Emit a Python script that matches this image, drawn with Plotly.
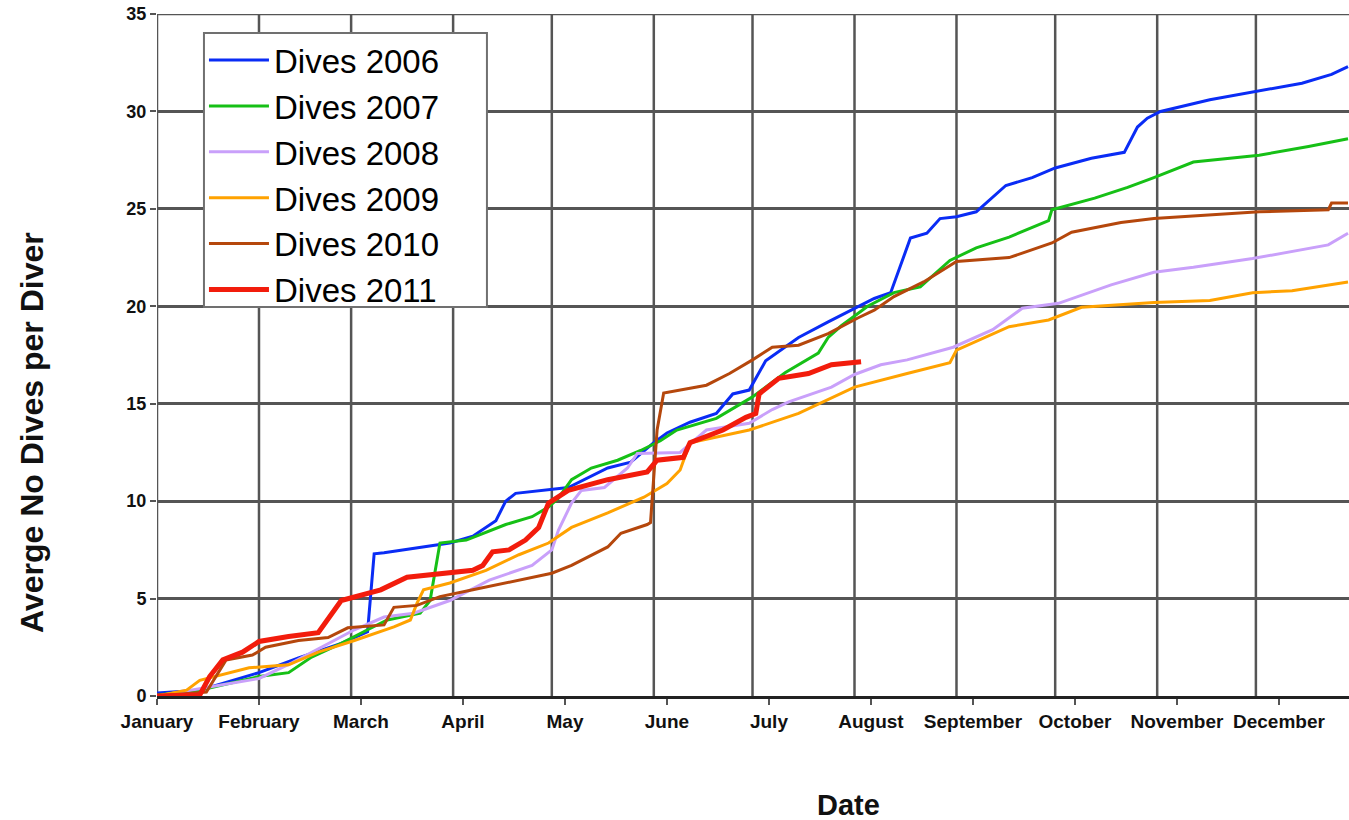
import plotly.graph_objects as go

# ---- data (day of year, average cumulative dives per diver) ----
month_names = ["January", "February", "March", "April", "May", "June", "July",
               "August", "September", "October", "November", "December"]
tick_days = [0, 31, 62, 93, 124, 155, 186, 217, 248, 279, 310, 341]
month_start_days = [0, 31, 59, 90, 120, 151, 181, 212, 243, 273, 304, 334]

d2006 = [0, 13, 31, 43, 56, 64, 66, 69, 89, 96, 103, 106, 109, 119, 125, 137, 144, 151, 155, 162,
         170, 175, 180, 185, 195, 204, 212, 218, 223, 229, 234, 238, 243, 249, 258, 266, 273, 284,
         294, 298, 301, 305, 320, 333, 348, 357, 362]
v2006 = [0.15, 0.3, 1.2, 1.95, 2.7, 3.3, 7.3, 7.35, 7.85, 8.2, 9.0, 10.0, 10.4, 10.6, 10.7, 11.7, 12.0,
         13.0, 13.5, 14.05, 14.5, 15.5, 15.7, 17.2, 18.4, 19.2, 19.9, 20.4, 20.7, 23.5, 23.75, 24.5,
         24.6, 24.85, 26.2, 26.6, 27.1, 27.6, 27.9, 29.2, 29.65, 30.0, 30.6, 31.0, 31.45, 31.9, 32.3]

d2007 = [0, 13, 31, 40, 47, 56, 64, 70, 80, 83, 86, 94, 106, 114, 119, 122, 126, 132, 140, 147, 153,
         158, 170, 181, 191, 201, 204, 208, 216, 224, 232, 241, 249, 259, 271, 272, 285, 295, 303,
         315, 335, 350, 362]
v2007 = [0.05, 0.3, 1.0, 1.2, 2.0, 2.7, 3.4, 3.9, 4.25, 4.9, 7.85, 8.0, 8.8, 9.2, 9.7, 10.15, 11.1,
         11.7, 12.1, 12.6, 13.1, 13.65, 14.25, 15.35, 16.6, 17.6, 18.4, 19.0, 20.0, 20.7, 21.0, 22.35,
         23.0, 23.55, 24.4, 24.95, 25.55, 26.1, 26.6, 27.4, 27.75, 28.2, 28.6]

d2008 = [0, 23, 31, 41, 50, 60, 69, 78, 89, 101, 114, 120, 122, 126, 129, 136, 143, 146, 159, 167,
         180, 187, 192, 205, 212, 220, 228, 242, 254, 263, 274, 290, 303, 315, 333, 345, 356, 362]
v2008 = [0.0, 0.65, 0.9, 1.7, 2.5, 3.4, 4.05, 4.25, 4.9, 5.95, 6.7, 7.5, 8.5, 9.9, 10.55, 10.7, 11.7,
         12.45, 12.5, 13.65, 14.0, 14.7, 15.1, 15.85, 16.5, 17.0, 17.25, 17.9, 18.8, 19.9, 20.15,
         21.1, 21.75, 22.0, 22.45, 22.8, 23.15, 23.75]

d2009 = [0, 9, 13, 28, 40, 49, 60, 72, 77, 79, 81, 89, 100, 110, 119, 126, 137, 148, 155, 159, 162,
         180, 195, 212, 228, 241, 243, 259, 271, 281, 303, 320, 333, 345, 362]
v2009 = [0.0, 0.3, 0.8, 1.45, 1.6, 2.25, 2.85, 3.55, 3.9, 4.75, 5.45, 5.8, 6.45, 7.25, 7.85, 8.65,
         9.4, 10.2, 10.9, 11.6, 13.0, 13.65, 14.5, 15.85, 16.55, 17.1, 17.75, 18.95, 19.3, 19.95,
         20.2, 20.3, 20.7, 20.8, 21.25]

d2010 = [0, 15, 21, 29, 33, 43, 52, 58, 69, 72, 79, 86, 96, 106, 120, 126, 137, 141, 149, 150, 152,
         154, 167, 174, 181, 187, 195, 204, 213, 218, 224, 233, 243, 259, 272, 278, 293, 303, 320,
         335, 356, 357, 362]
v2010 = [0.0, 0.2, 1.85, 2.1, 2.5, 2.85, 3.0, 3.5, 3.65, 4.55, 4.65, 5.1, 5.45, 5.8, 6.3, 6.7, 7.65,
         8.35, 8.8, 8.9, 13.65, 15.55, 15.95, 16.55, 17.25, 17.9, 18.0, 18.6, 19.4, 19.8, 20.5,
         21.25, 22.3, 22.5, 23.25, 23.8, 24.3, 24.5, 24.7, 24.85, 24.95, 25.3, 25.3]

d2011 = [0, 13, 16, 20, 26, 31, 40, 49, 56, 60, 68, 76, 86, 96, 99, 102, 107, 112, 116, 119, 125,
         137, 149, 152, 160, 162, 172, 179, 182, 183, 189, 198, 205, 214]
v2011 = [0.0, 0.05, 1.0, 1.85, 2.25, 2.8, 3.05, 3.25, 4.9, 5.1, 5.45, 6.1, 6.3, 6.45, 6.7, 7.4, 7.5,
         8.0, 8.65, 9.9, 10.55, 11.1, 11.5, 12.1, 12.25, 13.0, 13.65, 14.3, 14.5, 15.5, 16.3, 16.55,
         17.0, 17.15]

series = [
    ("Dives 2006", d2006, v2006, "#0a2cf5", 3),
    ("Dives 2007", d2007, v2007, "#16c016", 3),
    ("Dives 2008", d2008, v2008, "#c9a0fa", 3),
    ("Dives 2009", d2009, v2009, "#ffa200", 3),
    ("Dives 2010", d2010, v2010, "#b5470c", 3),
    ("Dives 2011", d2011, v2011, "#f21c0c", 5),
]

FONT = "Arial, Liberation Sans, sans-serif"
GRID = "#555555"

fig = go.Figure()
for name, xs, ys, col, w in series:
    fig.add_trace(go.Scatter(x=xs, y=ys, mode="lines", name=name,
                             line=dict(color=col, width=w)))

shapes = []
for d in month_start_days:
    shapes.append(dict(type="line", xref="x", yref="paper", x0=d, x1=d, y0=0, y1=1,
                       line=dict(color=GRID, width=2.5), layer="below"))
shapes.append(dict(type="line", xref="paper", yref="y", x0=0, x1=1, y0=35, y1=35,
                   line=dict(color=GRID, width=2.5), layer="below"))
# legend frame (white box with grey border, drawn over the plot, under the legend)
shapes.append(dict(type="rect", xref="paper", yref="paper", x0=0.0394, x1=0.2768,
                   y0=0.5704, y1=0.9721, fillcolor="white",
                   line=dict(color="#707070", width=2), layer="above"))

fig.update_layout(
    width=1349, height=820,
    margin=dict(l=157, r=0, t=14, b=124),
    paper_bgcolor="white", plot_bgcolor="white",
    font=dict(family=FONT, color="black"),
    shapes=shapes,
    showlegend=True,
    legend=dict(x=0.0394, y=0.9735, xanchor="left", yanchor="top",
                bgcolor="rgba(0,0,0,0)", borderwidth=0,
                font=dict(size=33, family=FONT, color="black"),
                itemwidth=60, tracegroupgap=0),
    xaxis=dict(range=[0, 362.3], tickvals=tick_days, ticktext=month_names,
               showgrid=False, zeroline=False, showline=True, linecolor="#222", linewidth=2.5,
               ticks="outside", ticklen=6, tickcolor="#555", tickwidth=2,
               tickfont=dict(size=19, family=FONT, color="#111", weight="bold"),
               fixedrange=True),
    yaxis=dict(range=[0, 35], dtick=5, showgrid=True, gridcolor=GRID, gridwidth=2.5,
               zeroline=False, showline=False,
               ticks="outside", ticklen=6, tickcolor="#555", tickwidth=2,
               tickfont=dict(size=18, family=FONT, color="#111", weight="bold"),
               fixedrange=True),
    annotations=[
        dict(text="<b>Averge No Dives per Diver</b>", xref="paper", yref="paper",
             x=-0.1049, y=0.387, xanchor="center", yanchor="middle", textangle=-90,
             showarrow=False, font=dict(size=32, family=FONT, color="#111")),
        dict(text="<b>Date</b>", xref="paper", yref="paper",
             x=0.5797, y=-0.16, xanchor="center", yanchor="middle",
             showarrow=False, font=dict(size=29, family=FONT, color="#111")),
    ],
)

fig.write_html("out.html", config={"displayModeBar": False},
               post_script="document.body.style.margin='0';document.body.style.overflow='hidden';")
